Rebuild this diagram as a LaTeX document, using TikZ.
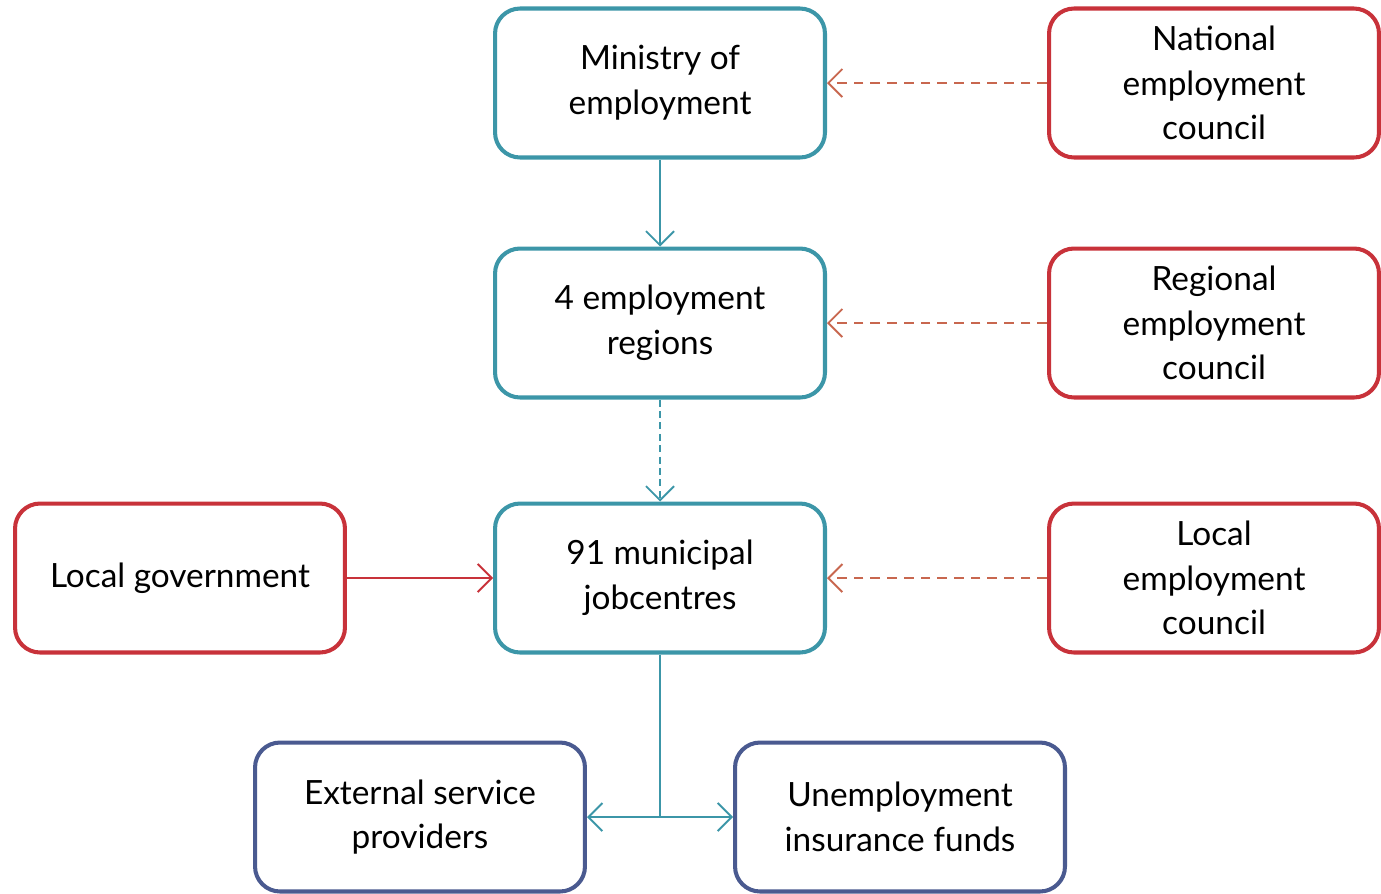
\documentclass[tikz,border=0pt]{standalone}
\usepackage{fontspec}
\setmainfont{Lato}
\usetikzlibrary{arrows.meta}
\definecolor{tealline}{HTML}{3C96A8}
\definecolor{redline}{HTML}{C8323A}
\definecolor{dashline}{HTML}{C8674F}
\definecolor{blueline}{HTML}{4A5A90}
\tikzset{
  orgbox/.style={draw, line width=2.3pt, rounded corners=0.5cm,
    minimum width=6.6cm, minimum height=2.98cm, align=center,
    font=\fontsize{19}{25.5}\selectfont, text=black, fill=white},
  mainbox/.style={orgbox, draw=tealline},
  councilbox/.style={orgbox, draw=redline},
  partnerbox/.style={orgbox, draw=blueline},
  barb/.tip={Straight Barb[length=8pt,width=16pt,line width=1.1pt]},
  link/.style={line width=1.1pt, -barb},
  twoway/.style={line width=1.1pt, barb-barb},
  advice/.style={link, dashline, line width=1.4pt, dash pattern=on 5.5pt off 4pt},
}
\begin{document}
\begin{tikzpicture}[x=0.02cm,y=-0.02cm]
        \useasboundingbox (0,0) rectangle (1381,893);

        \node[mainbox] (ministry) at (660,83) {Ministry of\\employment};
        \node[mainbox] (regions) at (660,323) {4 employment\\regions};
        \node[mainbox] (jobcentres) at (660,578) {91 municipal\\jobcentres};

        \node[councilbox] (national) at (1214,83) {National\\employment\\council};
        \node[councilbox] (regional) at (1214,323) {Regional\\employment\\council};
        \node[councilbox] (localcouncil) at (1214,578) {Local\\employment\\council};
        \node[councilbox] (localgov) at (180,578) {Local government};

        \node[partnerbox] (external) at (420,817) {External service\\providers};
        \node[partnerbox] (funds) at (900,817) {Unemployment\\insurance funds};

        \draw[link, tealline] (ministry) -- (regions);
        \draw[link, tealline, dash pattern=on 4pt off 2.5pt] (regions) -- (jobcentres);
        \draw[advice] (national) -- (ministry);
        \draw[advice] (regional) -- (regions);
        \draw[advice] (localcouncil) -- (jobcentres);
        \draw[link, redline] (localgov) -- (jobcentres);

        \coordinate (split) at (jobcentres.south |- external.east);
        \draw[line width=1.1pt, tealline] (jobcentres) -- (split);
        \draw[twoway, tealline] (external) -- (funds);
    \end{tikzpicture}
\end{document}
